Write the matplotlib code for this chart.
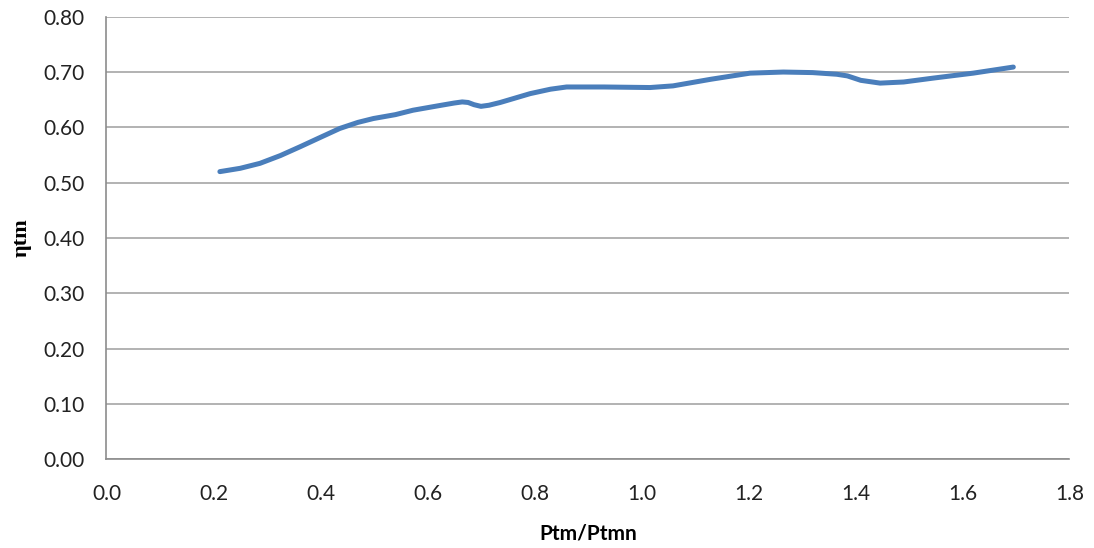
import matplotlib
matplotlib.use("Agg")
import matplotlib.pyplot as plt

x_vals = [0.212, 0.250, 0.287, 0.325, 0.362, 0.400, 0.436, 0.470, 0.499, 0.540, 0.573, 0.620,
          0.650, 0.665, 0.676, 0.687, 0.700, 0.715, 0.736, 0.792, 0.830, 0.860, 0.930, 1.016, 1.059, 1.130,
          1.203, 1.265, 1.320, 1.365, 1.385, 1.410, 1.446, 1.490, 1.545, 1.620, 1.695]
y_vals = [0.520, 0.526, 0.535, 0.549, 0.565, 0.582, 0.598, 0.609, 0.616, 0.623, 0.631, 0.639,
          0.644, 0.646, 0.645, 0.641, 0.638, 0.640, 0.645, 0.661, 0.669, 0.673, 0.673, 0.672, 0.675, 0.687,
          0.698, 0.700, 0.699, 0.696, 0.693, 0.685, 0.680, 0.682, 0.689, 0.698, 0.709]

x_ticks = [0.0, 0.2, 0.4, 0.6, 0.8, 1.0, 1.2, 1.4, 1.6, 1.8]
y_ticks = [0.0, 0.1, 0.2, 0.3, 0.4, 0.5, 0.6, 0.7, 0.8]

plt.rcParams['font.family'] = ['Lato', 'DejaVu Sans']

fig = plt.figure(figsize=(10.94, 5.48), dpi=100)
ax = fig.add_axes([0.0973, 0.1618, 0.8803, 0.8077])
ax.plot(x_vals, y_vals, color='#4a7ebb', linewidth=3.6, solid_capstyle='round', solid_joinstyle='round', zorder=3)

ax.set_xlim(0, 1.8)
ax.set_ylim(0, 0.8)
ax.set_xticks(x_ticks)
ax.set_yticks(y_ticks)
ax.set_xticklabels([f"{v:.1f}" for v in x_ticks])
ax.set_yticklabels([f"{v:.2f}" for v in y_ticks])
ax.tick_params(axis='both', length=0, labelsize=15, colors='#222222')
ax.tick_params(axis='x', pad=18)
ax.tick_params(axis='y', pad=16)
ax.grid(axis='y', color='#a6a6a6', linewidth=1.2)
ax.set_axisbelow(True)
for s in ['top', 'right']:
    ax.spines[s].set_visible(False)
for s in ['left', 'bottom']:
    ax.spines[s].set_color('#8c8c8c')
    ax.spines[s].set_linewidth(1.2)

ax.set_xlabel('Ptm/Ptmn', fontsize=15, fontweight='bold', labelpad=14)
ax.set_ylabel('ηtm', fontsize=16, fontweight='bold', labelpad=8,
              family=['Liberation Serif', 'DejaVu Serif'])

fig.savefig('out.png', dpi=100)
